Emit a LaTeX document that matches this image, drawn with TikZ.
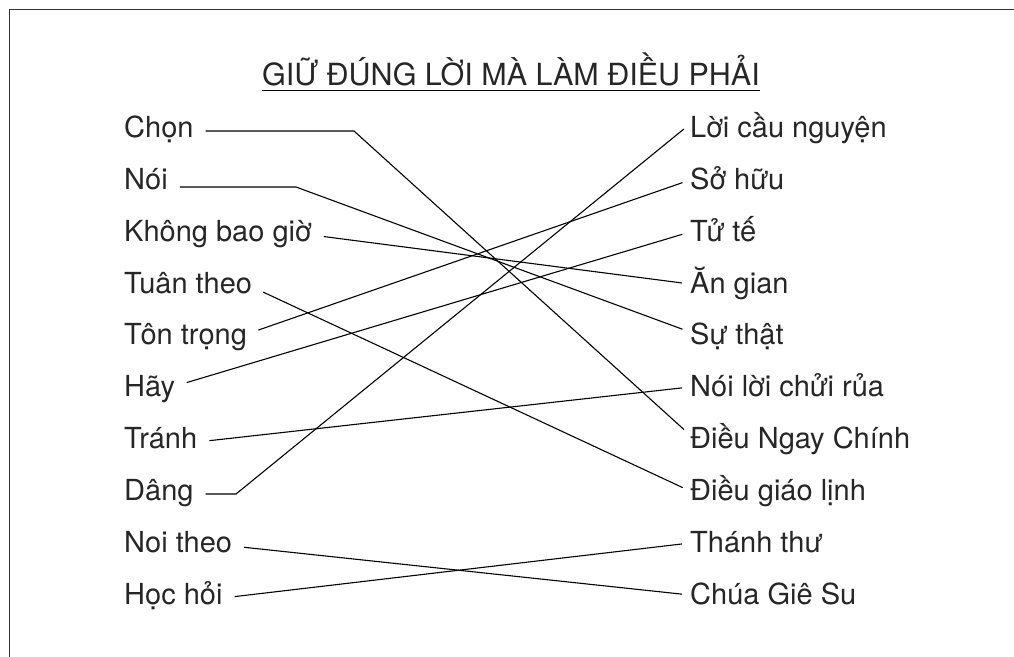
\documentclass[tikz,border=0pt]{standalone}
\usepackage{fontspec}
\setmainfont{TeX Gyre Heros}
\usetikzlibrary{calc}

\tikzset{
  chu/.style={font=\fontsize{29}{34}\selectfont, text=black!85, inner sep=0pt},
  trai/.style={chu, anchor=base west, text height=18pt, text depth=6pt},
  phai/.style={chu, anchor=base west, text height=20pt, text depth=2pt},
  noi/.style={line width=1.1pt, shorten <=12pt, shorten >=8pt}
}

\begin{document}
\begin{tikzpicture}[x=1pt,y=-1pt]
\useasboundingbox (0,0) rectangle (1014,656);
\clip (0,0) rectangle (1014,656);
% Khung
\draw[line width=1.5pt, black!80] (9.5,9.5) rectangle (1030,670);
% Tieu de
\node[chu, anchor=base, font=\fontsize{30.5}{36}\selectfont] (tieude) at (511,85) {GIỮ ĐÚNG LỜI MÀ LÀM ĐIỀU PHẢI};
\draw[line width=1.1pt] ([yshift=-5.5pt]tieude.base west) -- ([yshift=-5.5pt]tieude.base east);
% Cot trai
\node[trai] (l1) at (124,137) {Chọn};
\node[trai] (l2) at (124,189) {Nói};
\node[trai] (l3) at (124,241) {Không bao giờ};
\node[trai] (l4) at (124,293) {Tuân theo};
\node[trai] (l5) at (124,344) {Tôn trọng};
\node[trai] (l6) at (124,396) {Hãy};
\node[trai] (l7) at (124,448) {Tránh};
\node[trai] (l8) at (124,500) {Dâng};
\node[trai] (l9) at (124,552) {Noi theo};
\node[trai] (l10) at (124,604) {Học hỏi};
% Cot phai
\node[phai] (r1) at (690,137) {Lời cầu nguyện};
\node[phai] (r2) at (690,189) {Sở hữu};
\node[phai] (r3) at (690,241) {Tử tế};
\node[phai] (r4) at (690,293) {Ăn gian};
\node[phai] (r5) at (690,344) {Sự thật};
\node[phai] (r6) at (690,396) {Nói lời chửi rủa};
\node[phai] (r7) at (690,448) {Điều Ngay Chính};
\node[phai] (r8) at (690,500) {Điều giáo lịnh};
\node[phai] (r9) at (690,552) {Thánh thư};
\node[phai] (r10) at (690,604) {Chúa Giê Su};
% Diem gay
\coordinate (g1) at (354,0);
\coordinate (g2) at (296,0);
\coordinate (g8) at (236,0);
% Noi
\draw[noi] (l1.east) -- (l1.east -| g1) -- ([yshift=4pt]r7.west);
\draw[noi] ([yshift=-4pt]l2.east) -- ([yshift=-4pt]l2.east -| g2) -- ([yshift=3pt]r5.west);
\draw[noi] (l3.east) -- (r4.west);
\draw[noi] (l4.east) -- (r8.west);
\draw[noi] ([yshift=4pt]l5.east) -- (r2.west);
\draw[noi] ([yshift=4pt]l6.east) -- (r3.west);
\draw[noi] (l7.east) -- (r6.west);
\draw[noi] (l8.east) -- (l8.east -| g8) -- ([yshift=4pt]r1.west);
\draw[noi] (l9.east) -- (r10.west);
\draw[noi] (l10.east) -- (r9.west);
\end{tikzpicture}
\end{document}
